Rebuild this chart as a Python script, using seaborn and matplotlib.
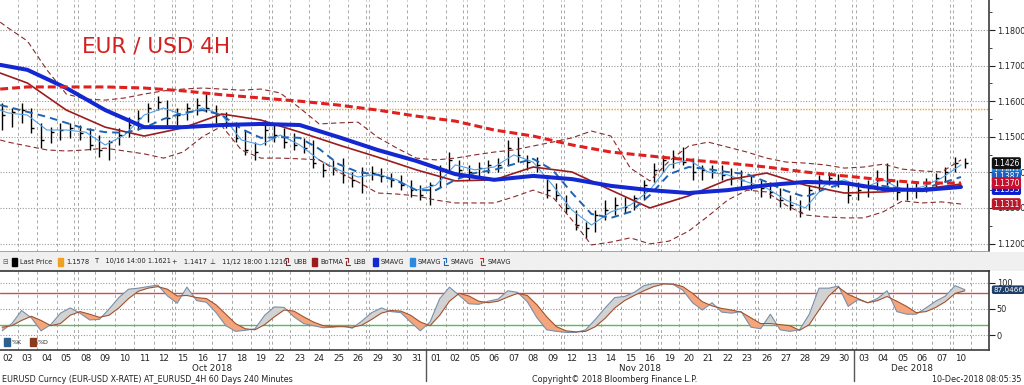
import numpy as np
import pandas as pd
import seaborn as sns
import matplotlib.pyplot as plt
from matplotlib.patches import Rectangle
from matplotlib.ticker import MultipleLocator
from matplotlib.transforms import blended_transform_factory

# ---------------- data ----------------
# trading days Oct 02 .. Dec 10 2018 (x axis = trading-day index)
day_labels = ['02', '03', '04', '05', '08', '09', '10', '11', '12', '15', '16', '17', '18', '19',
              '22', '23', '24', '25', '26', '29', '30', '31',
              '01', '02', '05', '06', '07', '08', '09', '12', '13', '14', '15', '16', '19', '20',
              '21', '22', '23', '26', '27', '28', '29', '30',
              '03', '04', '05', '06', '07', '10']
months = ['Oct 2018', 'Nov 2018', 'Dec 2018']
month_centers = [10.5, 32.5, 46.5]
month_breaks = [21.5, 43.5]
weekend_breaks = [3.5, 8.5, 13.5, 18.5, 23.5, 28.5, 33.5, 38.5, 43.5, 48.5]

# price bars, two per trading day
bar_t = -0.3 + 0.5 * np.arange(100)
high = [1.1595, 1.1581, 1.1595, 1.1581, 1.1539, 1.1527, 1.1539, 1.1539, 1.1533, 1.1525,
        1.1505, 1.1491, 1.1525, 1.1556, 1.1575, 1.1595, 1.1615, 1.1603, 1.1581, 1.1595,
        1.1609, 1.1620, 1.1589, 1.1570, 1.1541, 1.1519, 1.1485, 1.1547, 1.1533, 1.1525,
        1.1511, 1.1497, 1.1491, 1.1426, 1.1435, 1.1440, 1.1401, 1.1415, 1.1418, 1.1412,
        1.1398, 1.1393, 1.1379, 1.1364, 1.1373, 1.1421, 1.1457, 1.1435, 1.1421, 1.1429,
        1.1435, 1.1440, 1.1491, 1.1499, 1.1449, 1.1443, 1.1393, 1.1370, 1.1336, 1.1294,
        1.1261, 1.1294, 1.1322, 1.1331, 1.1331, 1.1336, 1.1379, 1.1426, 1.1449, 1.1463,
        1.1471, 1.1440, 1.1421, 1.1421, 1.1421, 1.1412, 1.1407, 1.1393, 1.1379, 1.1373,
        1.1356, 1.1336, 1.1322, 1.1364, 1.1393, 1.1401, 1.1396, 1.1373, 1.1373, 1.1379,
        1.1407, 1.1426, 1.1379, 1.1370, 1.1370, 1.1384, 1.1398, 1.1415, 1.1443, 1.1440]
low = [1.1519, 1.1527, 1.1539, 1.1511, 1.1468, 1.1482, 1.1491, 1.1497, 1.1491, 1.1463,
       1.1443, 1.1435, 1.1477, 1.1499, 1.1519, 1.1541, 1.1575, 1.1533, 1.1533, 1.1547,
       1.1561, 1.1570, 1.1539, 1.1525, 1.1485, 1.1449, 1.1435, 1.1477, 1.1485, 1.1468,
       1.1463, 1.1454, 1.1412, 1.1387, 1.1393, 1.1370, 1.1359, 1.1342, 1.1379, 1.1373,
       1.1359, 1.1350, 1.1331, 1.1322, 1.1308, 1.1359, 1.1401, 1.1384, 1.1379, 1.1387,
       1.1398, 1.1401, 1.1421, 1.1429, 1.1407, 1.1401, 1.1328, 1.1322, 1.1286, 1.1238,
       1.1216, 1.1232, 1.1266, 1.1280, 1.1286, 1.1294, 1.1322, 1.1373, 1.1401, 1.1412,
       1.1421, 1.1379, 1.1379, 1.1384, 1.1379, 1.1364, 1.1356, 1.1350, 1.1331, 1.1328,
       1.1303, 1.1294, 1.1275, 1.1294, 1.1350, 1.1364, 1.1359, 1.1314, 1.1322, 1.1331,
       1.1350, 1.1364, 1.1322, 1.1322, 1.1328, 1.1345, 1.1359, 1.1373, 1.1401, 1.1412]
close = [1.1561, 1.1570, 1.1575, 1.1525, 1.1491, 1.1513, 1.1519, 1.1525, 1.1511, 1.1477,
         1.1463, 1.1485, 1.1505, 1.1533, 1.1553, 1.1581, 1.1598, 1.1553, 1.1561, 1.1581,
         1.1589, 1.1581, 1.1561, 1.1533, 1.1497, 1.1463, 1.1457, 1.1519, 1.1505, 1.1485,
         1.1477, 1.1468, 1.1426, 1.1407, 1.1412, 1.1393, 1.1379, 1.1401, 1.1398, 1.1390,
         1.1379, 1.1364, 1.1350, 1.1336, 1.1364, 1.1407, 1.1435, 1.1407, 1.1401, 1.1412,
         1.1421, 1.1421, 1.1468, 1.1449, 1.1429, 1.1421, 1.1350, 1.1336, 1.1300, 1.1252,
         1.1244, 1.1280, 1.1294, 1.1308, 1.1303, 1.1328, 1.1364, 1.1407, 1.1435, 1.1440,
         1.1429, 1.1401, 1.1407, 1.1401, 1.1393, 1.1384, 1.1379, 1.1364, 1.1356, 1.1345,
         1.1322, 1.1308, 1.1289, 1.1350, 1.1379, 1.1384, 1.1373, 1.1336, 1.1350, 1.1356,
         1.1379, 1.1373, 1.1345, 1.1350, 1.1356, 1.1370, 1.1384, 1.1401, 1.1426, 1.1426]

# slow lines, read every second trading day
days2 = np.r_[-0.4, np.arange(1, 50, 2)]
sma_slow = [1.1702, 1.1688, 1.1637, 1.1575, 1.1527, 1.1527, 1.1533, 1.1536, 1.1533, 1.1499,
            1.1463, 1.1432, 1.1395, 1.1379, 1.1390, 1.1381, 1.1362, 1.1350, 1.1342, 1.1350,
            1.1364, 1.1373, 1.1370, 1.1353, 1.1350, 1.1359]
sma_200 = [1.1634, 1.1640, 1.1640, 1.1640, 1.1637, 1.1629, 1.1618, 1.1609, 1.1600, 1.1589,
           1.1575, 1.1558, 1.1544, 1.1519, 1.1502, 1.1477, 1.1457, 1.1446, 1.1435, 1.1426,
           1.1415, 1.1401, 1.1390, 1.1379, 1.1370, 1.1370]
botma = [1.1679, 1.1651, 1.1575, 1.1527, 1.1502, 1.1525, 1.1564, 1.1547, 1.1513, 1.1477,
         1.1443, 1.1407, 1.1376, 1.1379, 1.1415, 1.1401, 1.1350, 1.1300, 1.1334, 1.1379,
         1.1398, 1.1364, 1.1342, 1.1345, 1.1353, 1.1367]

# faster lines, read every trading day
days1 = np.r_[-0.4, np.arange(50)]
ubb = [1.1822, 1.1806, 1.1769, 1.1688, 1.1620, 1.1606, 1.1603, 1.1609, 1.1620, 1.1629,
       1.1634, 1.1637, 1.1634, 1.1631, 1.1634, 1.1623, 1.1581, 1.1536, 1.1539, 1.1541,
       1.1499, 1.1468, 1.1440, 1.1435, 1.1440, 1.1449, 1.1457, 1.1463, 1.1474, 1.1485,
       1.1497, 1.1516, 1.1502, 1.1412, 1.1376, 1.1432, 1.1474, 1.1485, 1.1471, 1.1457,
       1.1440, 1.1429, 1.1426, 1.1421, 1.1412, 1.1415, 1.1423, 1.1409, 1.1404, 1.1401,
       1.1435]
lbb = [1.1491, 1.1485, 1.1474, 1.1463, 1.1460, 1.1463, 1.1468, 1.1460, 1.1452, 1.1440,
       1.1457, 1.1500, 1.1530, 1.1463, 1.1440, 1.1440, 1.1438, 1.1435, 1.1401, 1.1373,
       1.1342, 1.1339, 1.1334, 1.1322, 1.1314, 1.1314, 1.1314, 1.1331, 1.1350, 1.1331,
       1.1266, 1.1196, 1.1204, 1.1216, 1.1199, 1.1207, 1.1235, 1.1277, 1.1322, 1.1350,
       1.1345, 1.1308, 1.1280, 1.1275, 1.1272, 1.1272, 1.1289, 1.1320, 1.1314, 1.1317,
       1.1311]
sma_mid = [1.1589, 1.1584, 1.1570, 1.1556, 1.1539, 1.1522, 1.1513, 1.1511, 1.1525, 1.1550,
           1.1567, 1.1575, 1.1561, 1.1522, 1.1497, 1.1499, 1.1497, 1.1466, 1.1423, 1.1401,
           1.1393, 1.1376, 1.1350, 1.1350, 1.1379, 1.1398, 1.1407, 1.1423, 1.1438, 1.1407,
           1.1342, 1.1283, 1.1272, 1.1289, 1.1336, 1.1395, 1.1415, 1.1409, 1.1401, 1.1395,
           1.1373, 1.1348, 1.1331, 1.1353, 1.1370, 1.1359, 1.1362, 1.1353, 1.1353, 1.1370,
           1.1387]
sma_fast = [1.1575, 1.1567, 1.1561, 1.1519, 1.1519, 1.1513, 1.1477, 1.1505, 1.1561, 1.1581,
            1.1561, 1.1581, 1.1561, 1.1491, 1.1477, 1.1505, 1.1477, 1.1435, 1.1407, 1.1387,
            1.1395, 1.1379, 1.1350, 1.1364, 1.1421, 1.1407, 1.1415, 1.1449, 1.1429, 1.1364,
            1.1294, 1.1252, 1.1289, 1.1308, 1.1350, 1.1421, 1.1435, 1.1401, 1.1393, 1.1373,
            1.1356, 1.1322, 1.1300, 1.1364, 1.1379, 1.1356, 1.1379, 1.1350, 1.1359, 1.1384,
            1.1421]
last_price_ref = 1.1578

# stochastics, same positions as the price bars
stoch_k = [8, 22, 47, 33, 8, 20, 42, 52, 42, 29, 30, 50, 72, 88, 90, 93, 96, 75, 61, 92,
           66, 63, 43, 18, 7, 9, 12, 38, 54, 53, 35, 22, 18, 14, 15, 18, 13, 27, 43, 52,
           45, 43, 25, 8, 25, 70, 92, 76, 60, 59, 65, 69, 85, 82, 64, 33, 10, 7, 5, 5,
           10, 30, 52, 72, 74, 82, 95, 99, 99, 97, 86, 62, 48, 62, 44, 42, 45, 15, 12, 40,
           10, 7, 10, 40, 90, 90, 94, 55, 68, 62, 70, 85, 45, 40, 40, 52, 65, 75, 95, 87]
stoch_d = [15, 18, 28, 36, 28, 18, 22, 38, 45, 40, 34, 38, 52, 70, 84, 90, 93, 88, 75, 76,
           72, 70, 58, 40, 22, 12, 10, 20, 35, 48, 46, 35, 25, 18, 16, 16, 15, 19, 30, 42,
           47, 46, 38, 25, 18, 38, 65, 80, 75, 65, 62, 65, 73, 80, 76, 58, 35, 16, 8, 6,
           7, 16, 32, 52, 66, 76, 85, 93, 98, 98, 93, 80, 64, 56, 51, 48, 44, 33, 22, 22,
           20, 18, 9, 20, 48, 75, 92, 78, 70, 62, 66, 74, 65, 55, 43, 45, 53, 64, 80, 85]

# ---------------- figure ----------------
sns.set_theme(style='white')
plt.rcParams['font.family'] = ['DejaVu Sans']

W, H = 1024, 385
fig = plt.figure(figsize=(W / 100, H / 100), dpi=100)
fig.patch.set_facecolor('white')


def box(x0, y0, x1, y1):
    return [x0 / W, 1 - y1 / H, (x1 - x0) / W, (y1 - y0) / H]


ax = fig.add_axes(box(0, 0, 989, 252))
leg = fig.add_axes(box(0, 252, 1024, 271))
sx = fig.add_axes(box(0, 271, 989, 350))

XL = (-0.41, 50.44)
grid_c = '#a8a8a8'


def vgrid(a):
    for k in range(-1, 50):
        pos = k + 0.5
        if pos in weekend_breaks:
            for p in (pos - 0.08, pos + 0.08):
                a.axvline(p, color=grid_c, lw=0.7, ls=(0, (3, 3)), zorder=0)
        else:
            a.axvline(pos, color=grid_c, lw=0.7, ls=(0, (3, 3)), zorder=0)


# ---- main price panel ----
ax.set_xlim(*XL)
ax.set_ylim(1.11762, 1.18843)
vgrid(ax)
for yv in np.arange(1.12, 1.1801, 0.01):
    ax.axhline(yv, color='#999999', lw=0.8, ls=(0, (1, 1.5)), zorder=0)
ax.axhline(last_price_ref, color='#f0a020', lw=1.0, ls=(0, (1, 1)), zorder=1)

ax.vlines(bar_t, low, high, color='black', lw=1.0, zorder=3)
ax.hlines(close, bar_t, bar_t + 0.15, color='black', lw=1.0, zorder=3)

lines = [
    (days1, sma_fast, '#4f9fe6', 0.8, None),
    (days1, ubb, '#8b2a2a', 0.8, [4.8, 2.9]),
    (days1, lbb, '#8b2a2a', 0.8, [4.8, 2.9]),
    (days2, botma, '#9b1c1c', 1.2, None),
    (days1, sma_mid, '#1e64b4', 1.4, [4, 2.6]),
    (days2, sma_slow, '#1428d2', 2.9, None),
    (days2, sma_200, '#e01f1f', 2.2, [2.6, 1.3]),
]
for xs, ys, col, lw, dash in lines:
    df = pd.DataFrame({'t': xs, 'v': ys})
    sns.lineplot(data=df, x='t', y='v', ax=ax, color=col, lw=lw, legend=False, zorder=4)
    if dash:
        ax.lines[-1].set_dashes(dash)

ax.set_xlabel('')
ax.set_ylabel('')
ax.text(0.083, 0.815, 'EUR / USD 4H', transform=ax.transAxes, color='#d42020',
        fontsize=15.5, va='center', ha='left')

ax.yaxis.tick_right()
ax.set_yticks(np.arange(1.12, 1.1801, 0.01))
ax.set_yticklabels([f'{v:.4f}' for v in np.arange(1.12, 1.1801, 0.01)])
ax.yaxis.set_minor_locator(MultipleLocator(0.005))
ax.tick_params(axis='y', which='major', direction='out', length=4, width=0.8,
               labelsize=5.9, pad=1.5, colors='#222222')
ax.tick_params(axis='y', which='minor', direction='out', length=2, width=0.6, right=True)
ax.tick_params(axis='x', bottom=False, labelbottom=False)
for s in ('left', 'top'):
    ax.spines[s].set_visible(False)
ax.spines['right'].set_color('#444444')
ax.spines['bottom'].set_color('#999999')


def tag(a, y, text, fc, fs=5.5):
    a.annotate(text, xy=(1.0, y), xycoords=('axes fraction', 'data'),
               xytext=(3, 0), textcoords='offset points', ha='left', va='center',
               fontsize=fs, color='white', annotation_clip=False, zorder=10,
               bbox=dict(boxstyle='round,pad=0.18,rounding_size=0.25', fc=fc, ec='none'))


tag(ax, 1.1401, '1.1401', '#2a8ae0')
tag(ax, 1.1387, '1.1387', '#1f5fbf')
tag(ax, 1.1353, '1.1353', '#0a1ed0')
tag(ax, 1.1311, '1.1311', '#b8182a')
tag(ax, 1.1370, '1.1370', '#c8102e')
tag(ax, 1.1426, '1.1426', '#111111')

# ---- legend strip ----
leg.set_xlim(0, W)
leg.set_ylim(0, 1)
leg.set_facecolor('#f0f0f0')
leg.set_xticks([])
leg.set_yticks([])
for s in leg.spines.values():
    s.set_visible(False)
fs_leg = 4.8
items = [
    (12, 'sq', 'black', 'Last Price'),
    (58, 'sq', '#f0a020', '1.1578'),
    (95, 'txt', None, 'T   10/16 14:00 1.1621'),
    (172, 'txt', None, '+   1.1417'),
    (210, 'txt', None, '\u22a5   11/12 18:00 1.1216'),
    (285, 'dash', '#8b2a2a', 'UBB'),
    (312, 'sq', '#9b1c1c', 'BoTMA'),
    (345, 'dash', '#8b2a2a', 'LBB'),
    (373, 'sq', '#1428d2', 'SMAVG'),
    (410, 'sq', '#2a8ae0', 'SMAVG'),
    (443, 'dash', '#1e64b4', 'SMAVG'),
    (480, 'dash', '#e01f1f', 'SMAVG'),
]
leg.text(2, 0.5, '\u229f', fontsize=fs_leg, va='center', color='#555555')
for x0, kind, col, label in items:
    if kind == 'sq':
        leg.add_patch(Rectangle((x0, 0.28), 5, 0.42, color=col))
        leg.text(x0 + 8, 0.5, label, fontsize=fs_leg, va='center', color='#222222')
    elif kind == 'dash':
        leg.plot([x0, x0 + 3, x0 + 3], [0.7, 0.7, 0.45], color=col, lw=0.8)
        leg.plot([x0 + 1, x0 + 1, x0 + 5], [0.55, 0.3, 0.3], color=col, lw=0.8)
        leg.text(x0 + 8, 0.5, label, fontsize=fs_leg, va='center', color='#222222')
    else:
        leg.text(x0, 0.5, label, fontsize=fs_leg, va='center', color='#222222')

# ---- stochastics panel ----
sx.set_xlim(*XL)
sx.set_ylim(-28.8, 123)
vgrid(sx)
for yv in (0, 50, 100):
    sx.axhline(yv, color='#999999', lw=0.8, ls=(0, (1, 1.5)), zorder=0)
sx.axhline(80, color='#c85050', lw=1.0, zorder=1)
sx.axhline(20, color='#5cb85c', lw=1.0, zorder=1)

k = np.array(stoch_k, dtype=float)
d = np.array(stoch_d, dtype=float)
sx.fill_between(bar_t, k, d, where=k >= d, interpolate=True, color='#d2d2d2', lw=0, zorder=2)
sx.fill_between(bar_t, k, d, where=k < d, interpolate=True, color='#f4a57c', lw=0, zorder=2)
sdf = pd.DataFrame({'t': bar_t, 'K': k, 'D': d})
sns.lineplot(data=sdf, x='t', y='K', ax=sx, color='#7890aa', lw=0.8, legend=False, zorder=3)
sns.lineplot(data=sdf, x='t', y='D', ax=sx, color='#a0522d', lw=0.8, legend=False, zorder=3)
sx.set_xlabel('')
sx.set_ylabel('')

sx.yaxis.tick_right()
sx.set_yticks([0, 50, 100])
sx.tick_params(axis='y', direction='out', length=4, width=0.8, labelsize=5.9, pad=1.5,
               colors='#222222')
sx.set_xticks(np.arange(50))
sx.set_xticklabels(day_labels)
sx.tick_params(axis='x', length=0, labelsize=6.3, pad=3, colors='#222222')
sx.spines['left'].set_visible(False)
sx.spines['top'].set_color('#333333')
sx.spines['top'].set_linewidth(1.2)
sx.spines['right'].set_color('#444444')
sx.spines['bottom'].set_color('#444444')
tag(sx, 87.0466, '87.0466', '#1f3f66', fs=5.2)

sx.add_patch(Rectangle((0.004, 0.05), 0.006, 0.1, transform=sx.transAxes, color='#2f5f8f'))
sx.text(0.012, 0.1, '%K', transform=sx.transAxes, fontsize=4.5, va='center')
sx.add_patch(Rectangle((0.030, 0.05), 0.006, 0.1, transform=sx.transAxes, color='#8b3a1a'))
sx.text(0.038, 0.1, '%D', transform=sx.transAxes, fontsize=4.5, va='center')

tr = blended_transform_factory(sx.transData, sx.transAxes)
for name, c in zip(months, month_centers):
    sx.text(c, -0.23, name, transform=tr, ha='center', va='center', fontsize=6.3,
            color='#222222')
for b in month_breaks:
    sx.plot([b, b], [0, -0.39], transform=tr, color='#555555', lw=1, clip_on=False)

# ---- footer ----
fy = 1 - 380 / H
fig.text(2 / W, fy, 'EURUSD Curncy (EUR-USD X-RATE) AT_EURUSD_4H 60 Days 240 Minutes',
         fontsize=5.8, va='center', color='#222222')
fig.text(532 / W, fy, 'Copyright\u00a9 2018 Bloomberg Finance L.P.', fontsize=5.8,
         va='center', color='#222222')
fig.text(1022 / W, fy, '10-Dec-2018 08:05:35', fontsize=5.8, va='center', ha='right',
         color='#222222')

fig.savefig('out.png', dpi=100)
